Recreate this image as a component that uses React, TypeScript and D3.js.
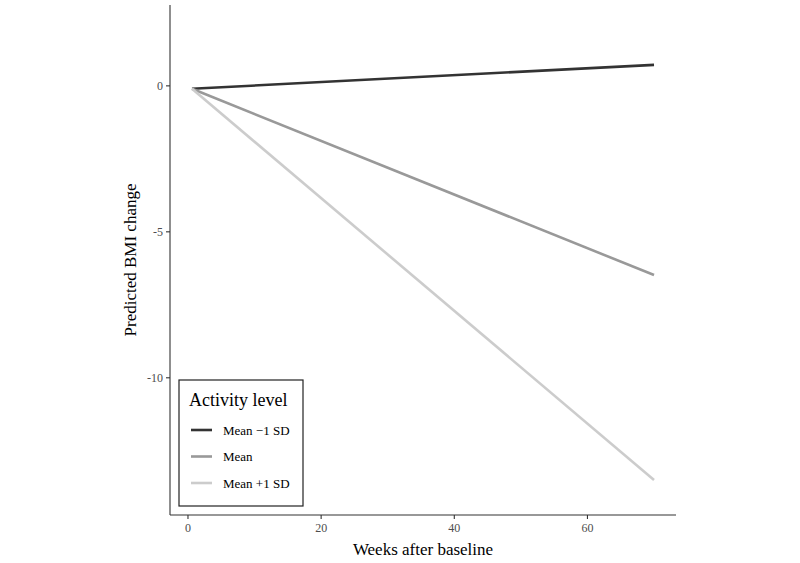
import React from "react";
import * as d3 from "d3";

const weeks = [0.6, 70];
const seriesNames = ["Mean \u22121 SD", "Mean", "Mean +1 SD"];
const lowActivity = [-0.1, 0.72];
const meanActivity = [-0.1, -6.48];
const highActivity = [-0.1, -13.5];
const xTicks = [0, 20, 40, 60];
const yTicks = [0, -5, -10];
const colors = ["#333333", "#999999", "#cccccc"];

export default function App() {
  const W = 800, H = 563;
  const x = d3.scaleLinear().domain([-2.7, 73.3]).range([170, 676]);
  const y = d3.scaleLinear().domain([-14.7, 2.77]).range([515, 5]);
  const series = [lowActivity, meanActivity, highActivity];
  const line = d3.line<[number, number]>().x(d => x(d[0])).y(d => y(d[1]));
  const font = "'Liberation Serif', 'Times New Roman', serif";
  return (
    <div style={{ position: "fixed", left: 0, top: 0 }}>
      <svg width={W} height={H} style={{ display: "block", background: "#fff" }} fontFamily={font}>
        {series.map((s, i) => (
          <path key={i} d={line(weeks.map((w, j) => [w, s[j]]) as [number, number][]) || ""}
            fill="none" stroke={colors[i]} strokeWidth={2.6} />
        ))}
        <line x1={170} x2={170} y1={5} y2={515} stroke="#333" strokeWidth={1.1} />
        <line x1={170} x2={676} y1={515} y2={515} stroke="#333" strokeWidth={1.1} />
        {xTicks.map(t => (
          <g key={t}>
            <line x1={x(t)} x2={x(t)} y1={515} y2={519} stroke="#333" strokeWidth={1.1} />
            <text x={x(t)} y={532} textAnchor="middle" fontSize={12} fill="#4d4d4d">{t}</text>
          </g>
        ))}
        {yTicks.map(t => (
          <g key={t}>
            <line x1={166} x2={170} y1={y(t)} y2={y(t)} stroke="#333" strokeWidth={1.1} />
            <text x={163} y={y(t) + 4} textAnchor="end" fontSize={12} fill="#4d4d4d">{t}</text>
          </g>
        ))}
        <text x={(170 + 676) / 2} y={555} textAnchor="middle" fontSize={17} fill="#000">Weeks after baseline</text>
        <text transform={`translate(136, ${(5 + 515) / 2}) rotate(-90)`} textAnchor="middle" fontSize={17} fill="#000">Predicted BMI change</text>
        <rect x={179} y={380} width={124} height={126} fill="#fff" stroke="#222" strokeWidth={1.2} />
        <text x={189} y={406} fontSize={18} fill="#000">Activity level</text>
        {seriesNames.map((n, i) => (
          <g key={n}>
            <line x1={191} x2={212} y1={430 + i * 26.5} y2={430 + i * 26.5} stroke={colors[i]} strokeWidth={2.6} />
            <text x={223} y={434.5 + i * 26.5} fontSize={13} fill="#000">{n}</text>
          </g>
        ))}
      </svg>
    </div>
  );
}
